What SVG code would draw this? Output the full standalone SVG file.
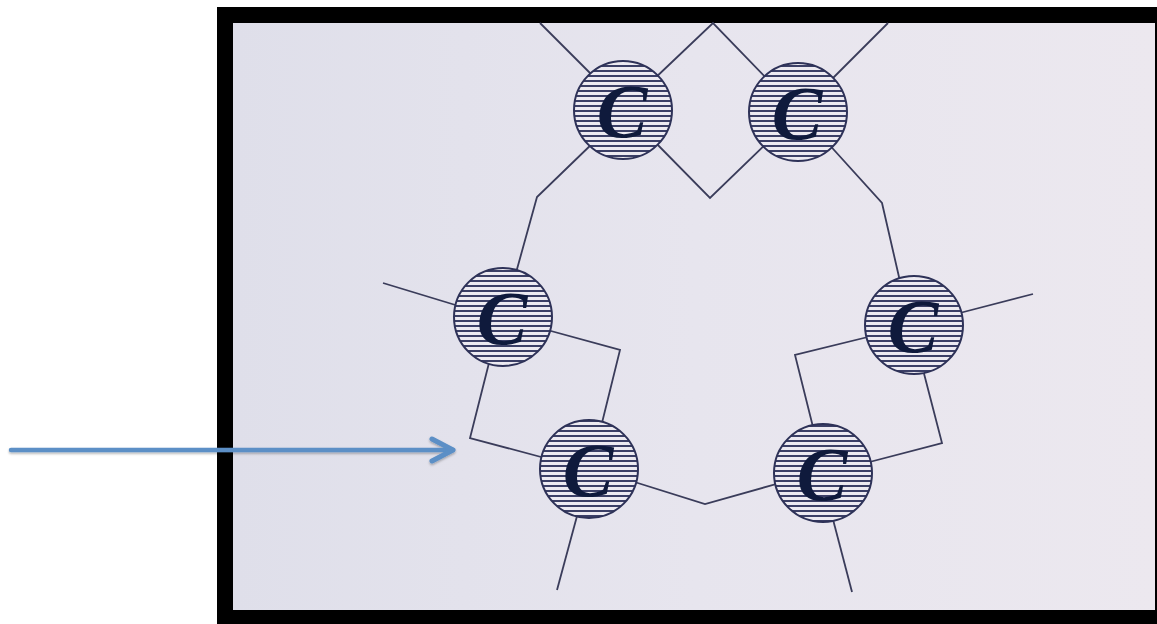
<svg xmlns="http://www.w3.org/2000/svg" width="1157" height="624" viewBox="0 0 1157 624">
  <defs>
    <linearGradient id="paper" x1="0" y1="0" x2="1" y2="0">
      <stop offset="0" stop-color="#dfdfea"/>
      <stop offset="0.5" stop-color="#e7e5ee"/>
      <stop offset="1" stop-color="#ece8ef"/>
    </linearGradient>
    <pattern id="hatch" patternUnits="userSpaceOnUse" x="0" y="0" width="8" height="5">
      <rect width="8" height="5" fill="#eceaf1"/>
      <rect y="0" width="8" height="2" fill="#3b3f66"/>
    </pattern>
    <marker id="chev" markerUnits="userSpaceOnUse" markerWidth="30" markerHeight="30" refX="24" refY="15" orient="auto">
      <path d="M3,4 L24,15 L3,26" fill="none" stroke="#5b8fc6" stroke-width="5" stroke-linecap="round" stroke-linejoin="round"/>
    </marker>
    <filter id="shadow" filterUnits="userSpaceOnUse" x="0" y="425" width="480" height="50">
      <feDropShadow dx="0" dy="1.5" stdDeviation="1.2" flood-color="#000" flood-opacity="0.3"/>
    </filter>
  </defs>
  <style>
    .wire { fill: none; stroke: #3a3c5a; stroke-width: 1.8; stroke-linejoin: miter; }
    .ring { fill: url(#hatch); stroke: #2e3258; stroke-width: 2; }
    .lbl { font-family: "Liberation Serif", "DejaVu Serif", serif; font-style: italic; font-weight: bold; font-size: 76px; fill: #0f1a3c; text-anchor: middle; }
  </style>

  <!-- white page -->
  <rect width="1157" height="624" fill="#ffffff"/>

  <!-- mounted slide: black frame with paper inside -->
  <rect x="217" y="7" width="940" height="617" fill="#000000"/>
  <rect x="233" y="23" width="922" height="587" fill="url(#paper)"/>

  <!-- bonds between the C nodes -->
  <g id="connectors">
    <polyline class="wire" points="540,23 598,81"/>
    <polyline class="wire" points="652,81 713,23 771,83"/>
    <polyline class="wire" points="828,83 888,23"/>
    <polyline class="wire" points="650,137 710,198 770,140"/>
    <polyline class="wire" points="596,140 537,197 514,280"/>
    <polyline class="wire" points="825,140 882,203 902,290"/>
    <polyline class="wire" points="383,283 462,307"/>
    <polyline class="wire" points="540,328 620,350 599,435"/>
    <polyline class="wire" points="491,355 470,438 556,461"/>
    <polyline class="wire" points="580,505 557,590"/>
    <polyline class="wire" points="625,479 705,504 787,481"/>
    <polyline class="wire" points="952,315 1033,294"/>
    <polyline class="wire" points="876,335 795,355 815,435"/>
    <polyline class="wire" points="921,362 942,443 858,465"/>
    <polyline class="wire" points="830,508 852,592"/>
  </g>

  <!-- carbon atoms -->
  <g id="c-top-left">
    <circle class="ring" cx="623" cy="110" r="49"/>
    <text class="lbl" x="622" y="137">C</text>
  </g>
  <g id="c-top-right">
    <circle class="ring" cx="798" cy="112" r="49"/>
    <text class="lbl" x="797" y="139">C</text>
  </g>
  <g id="c-mid-left">
    <circle class="ring" cx="503" cy="317" r="49"/>
    <text class="lbl" x="502" y="344">C</text>
  </g>
  <g id="c-mid-right">
    <circle class="ring" cx="914" cy="325" r="49"/>
    <text class="lbl" x="913" y="352">C</text>
  </g>
  <g id="c-low-left">
    <circle class="ring" cx="589" cy="469" r="49"/>
    <text class="lbl" x="588" y="496">C</text>
  </g>
  <g id="c-low-right">
    <circle class="ring" cx="823" cy="473" r="49"/>
    <text class="lbl" x="822" y="500">C</text>
  </g>

  <!-- pointer arrow -->
  <g id="pointer" filter="url(#shadow)">
    <line x1="11" y1="450" x2="453" y2="450" stroke="#5b8fc6" stroke-width="4.5" stroke-linecap="round" marker-end="url(#chev)"/>
  </g>
</svg>
